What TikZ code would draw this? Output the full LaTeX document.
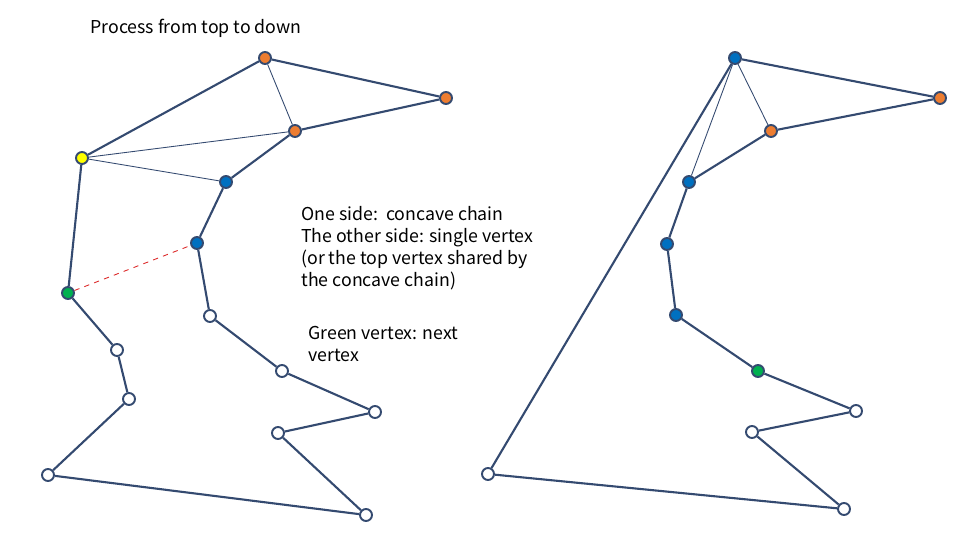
\documentclass[tikz,border=0pt]{standalone}
\usepackage{fontspec}
\setmainfont{Noto Sans CJK JP}
\usepackage{tikz}
\usetikzlibrary{arrows.meta,positioning}
\definecolor{edgeblue}{RGB}{52,74,112}
\definecolor{vorange}{RGB}{237,125,49}
\definecolor{vblue}{RGB}{0,112,192}
\definecolor{vyellow}{RGB}{255,255,0}
\definecolor{vgreen}{RGB}{0,176,80}
\definecolor{diagred}{RGB}{220,40,40}

\begin{document}
\begin{tikzpicture}[x=0.02cm, y=-0.02cm,
  vtx/.style={circle, draw=edgeblue, line width=1.1pt, minimum size=0.24cm, inner sep=0pt, fill=white},
  side/.style={draw=edgeblue, line width=1.2pt},
  diag/.style={draw=edgeblue, line width=0.5pt},
  cut/.style={draw=diagred, dashed, line width=0.5pt},
  note/.style={anchor=base west, align=left, font=\fontsize{10.1}{12.5}\selectfont, inner sep=0pt}
]
\useasboundingbox (0,0) rectangle (960,540);
% left polygon
\node[vtx, fill=vorange] (lA) at (265,58) {};
\node[vtx, fill=vorange] (lB) at (446,98) {};
\node[vtx, fill=vorange] (lC) at (295,131) {};
\node[vtx, fill=vyellow] (lY) at (82,158) {};
\node[vtx, fill=vblue] (lD) at (226,182) {};
\node[vtx, fill=vblue] (lE) at (197,243) {};
\node[vtx, fill=vgreen] (lG) at (68,293) {};
\node[vtx] (lF) at (210,316) {};
\node[vtx] (lH) at (117,350) {};
\node[vtx] (lI) at (282,371) {};
\node[vtx] (lJ) at (129,399) {};
\node[vtx] (lK) at (375,412) {};
\node[vtx] (lL) at (278,433) {};
\node[vtx] (lM) at (48,475) {};
\node[vtx] (lN) at (366,515) {};

\draw[side] (lA) -- (lB) -- (lC) -- (lD) -- (lE) -- (lF) -- (lI) -- (lK) -- (lL) -- (lN) -- (lM) -- (lJ) -- (lH) -- (lG) -- (lY) -- (lA);
\draw[diag] (lA) -- (lC);
\draw[diag] (lY) -- (lC);
\draw[diag] (lY) -- (lD);
\draw[cut] (lG) -- (lE);

% right polygon
\node[vtx, fill=vblue] (rA) at (735,58) {};
\node[vtx, fill=vorange] (rB) at (940,98) {};
\node[vtx, fill=vorange] (rC) at (771,131) {};
\node[vtx, fill=vblue] (rD) at (689,182) {};
\node[vtx, fill=vblue] (rE) at (667,244) {};
\node[vtx, fill=vblue] (rF) at (676,315) {};
\node[vtx, fill=vgreen] (rG) at (758,371) {};
\node[vtx] (rH) at (856,411) {};
\node[vtx] (rI) at (752,432) {};
\node[vtx] (rJ) at (844,509) {};
\node[vtx] (rK) at (488,474) {};

\draw[side] (rA) -- (rB) -- (rC) -- (rD) -- (rE) -- (rF) -- (rG) -- (rH) -- (rI) -- (rJ) -- (rK) -- (rA);
\draw[diag] (rA) -- (rC);
\draw[diag] (rA) -- (rD);

% notes
\node[note] (title) at (90,34) {Process from top to down};
\node[note, anchor=north west, text depth=0pt] (rule) at (301,206) {One side:\ \ concave chain\\The other side: single vertex\\(or the top vertex shared by\\the concave chain)};
\node[note, anchor=north west] (next) at (308,326) {Green vertex: next\\vertex};
\end{tikzpicture}
\end{document}
